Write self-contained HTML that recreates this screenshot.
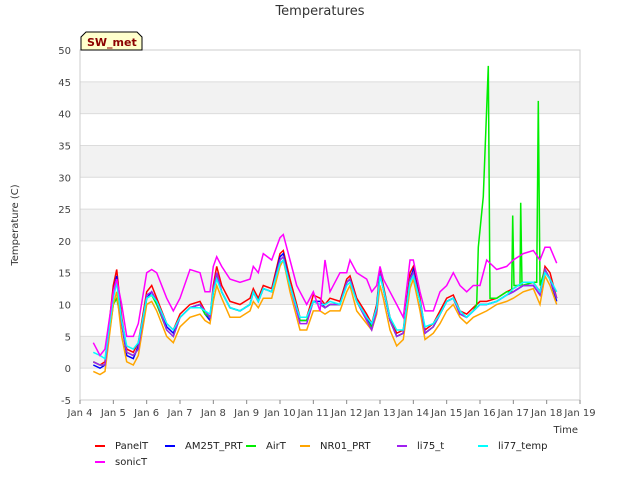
<!DOCTYPE html>
<html><head><meta charset="utf-8"><style>
body{margin:0;background:#fff;font-family:"Liberation Sans","DejaVu Sans",sans-serif;}
svg text{font-family:"DejaVu Sans","Liberation Sans",sans-serif;}
</style></head><body>
<svg id="chart" width="640" height="480" xmlns="http://www.w3.org/2000/svg">
<rect width="640" height="480" fill="#fff"/>
<g id="bands"></g><g id="grid"></g>
<rect x="80" y="50" width="500" height="350" fill="none" stroke="#ccc"/>
<g id="series"></g><g id="axes"></g>
<text x="320" y="15" text-anchor="middle" font-size="13" fill="#333">Temperatures</text>
<text x="18" y="225" text-anchor="middle" font-size="10" fill="#333" transform="rotate(-90 18 225)">Temperature (C)</text>
<text x="578" y="433" text-anchor="end" font-size="10" fill="#333">Time</text>
<g><path d="M81,50 L81,37 L86,32 L137,32 L142,37 L142,50 Z" fill="#ffffcc" stroke="#000"/><text x="87" y="46" font-size="11" font-weight="bold" fill="#8b0000">SW_met</text></g>
<g id="legend"></g>
</svg>
<script>
const times=[4.4,4.6,4.75,5.0,5.1,5.25,5.4,5.6,5.75,6.0,6.15,6.3,6.6,6.8,7.0,7.3,7.6,7.75,7.9,8.0,8.1,8.25,8.5,8.8,9.1,9.2,9.35,9.5,9.75,10.0,10.1,10.3,10.5,10.6,10.8,11.0,11.2,11.35,11.5,11.8,12.0,12.1,12.3,12.6,12.75,12.9,13.0,13.1,13.3,13.5,13.7,13.9,14.0,14.2,14.35,14.6,14.8,15.0,15.2,15.4,15.6,15.8,16.0,16.2,16.5,16.8,17.0,17.3,17.6,17.8,17.95,18.1,18.3];
const panelT=[1,0.5,1,13,15.5,8,3,2.5,4,12,13,11,7,6,8.5,10,10.5,9,8,13,16,13,10.5,10,11,12.5,11,13,12.5,18,18.5,14,10,8,8,11.5,11,10,11,10.5,14,14.5,11,8.5,7,10,15.5,13,8,5.5,6,15,16,11,6,7,9,11,11.5,9,8.5,9.5,10.5,10.5,11,12,12.5,13.5,13.5,12,16,15,11];
const am25T=[0.5,0,0.5,12,14.5,7,2,1.5,3.5,11,12,10.5,6.5,5.5,8,9.5,10,8.5,7.5,12,15,12,9.5,9,10,12,10.5,12.5,12,17.5,18,13,9.5,7.5,7.5,10.5,10.5,9.5,10,10,13.5,14,10.5,8,6.5,9.5,15,12.5,7.5,5,5.5,14,15.5,10.5,5.5,6.5,8.5,10.5,11,8.5,8,9,10,10,10.5,11.5,12,13,13,11.5,15.5,14,10.5];
const nr01=[-0.5,-1,-0.5,10,12,5,1,0.5,2,10,10.5,9,5,4,6.5,8,8.5,7.5,7,10.5,13,11,8,8,9,10.5,9.5,11,11,16,17,12,8,6,6,9,9,8.5,9,9,12,13,9,7,6,8.5,13,11,6,3.5,4.5,12.5,14,9,4.5,5.5,7,9,10,8,7,8,8.5,9,10,10.5,11,12,12.5,10,14.5,13,10];
const li75=[1,0.5,0.5,12,14,7,2.5,2,3,11.5,12,10.5,6,5,8,9.5,10,9,8,12.5,15,12,9.5,9,10,12,10.5,12.5,12,17,17.5,13,9,7,7,10.5,10,9.5,10,10,13.5,14,10.5,7.5,6,9,15,12.5,7.5,5,5.5,14,15,10.5,5.5,6.5,8.5,10.5,11,8.5,8,9,10,10,10.5,11.5,12,13,13,11.5,15.5,14,11];
const li77=[2.5,2,1.5,11,13.5,7.5,3.5,3,4,11,11.5,10.5,7,6,8,9.5,9.5,9,8.5,12,14,12,9.5,9,10,12,10.5,12.5,12,16.5,17,13,9.5,8,8,10.5,10,10,10.5,10,13,13.5,10.5,8,7,9.5,14.5,12.5,8,6,6,13.5,14.5,10.5,6.5,7,8.5,10.5,11,9,8,9,10,10,10.5,11.5,12.5,13.5,13.5,12,15,14,12];
const sonicT=[4,2,3,12,14,10,5,5,7,15,15.5,15,11,9,11,15.5,15,12,12,16,17.5,16,14,13.5,14,16,15,18,17,20.5,21,17,13,12,10,12,9,17,12,15,15,17,15,14,12,13,16,14,12,10,8,17,17,12,9,9,12,13,15,13,12,13,13,17,15.5,16,17,18,18.5,17,19,19,16.5];
const airTimes=[4.4,4.6,4.75,5.0,5.1,5.25,5.4,5.6,5.75,6.0,6.15,6.3,6.6,6.8,7.0,7.3,7.6,7.75,7.9,8.0,8.1,8.25,8.5,8.8,9.1,9.2,9.35,9.5,9.75,10.0,10.1,10.3,10.5,10.6,10.8,11.0,11.2,11.35,11.5,11.8,12.0,12.1,12.3,12.6,12.75,12.9,13.0,13.1,13.3,13.5,13.7,13.9,14.0,14.2,14.35,14.6,14.8,15.0,15.2,15.4,15.6,15.8,15.9,15.95,16.1,16.25,16.3,16.5,16.8,16.95,16.98,17.02,17.2,17.22,17.26,17.6,17.7,17.75,17.8,17.95,18.1,18.3];
const airT=[1,0.5,0.5,10,11,7,2.5,2,3,11,11.5,10,6,5,8,9.5,10,8.5,8,12,14.5,12,9.5,9,10,12,10.5,12.5,12,17,17.5,13,9.5,7.5,7.5,10.5,10,9.5,10,10,13.5,14,10.5,7.5,6.5,9,15,12.5,7.5,5,5.5,14,15,10.5,5.5,6.5,8.5,10.5,11,8.5,8,9,10,19,27,47.5,11,11,12,12,24,13,13,26,13,13.5,13.5,42,13,15.5,14,11];
const yTicks=[-5,0,5,10,15,20,25,30,35,40,45,50];
const xTicks=[4,5,6,7,8,9,10,11,12,13,14,15,16,17,18,19];
const NS="http://www.w3.org/2000/svg";
const X=d=>80+(d-4)*500/15, Y=v=>400-(v+5)*350/55;
function mk(tag,attrs,parent){const e=document.createElementNS(NS,tag);for(const k in attrs)e.setAttribute(k,attrs[k]);parent.appendChild(e);return e;}
const bands=document.getElementById('bands'),grid=document.getElementById('grid'),axes=document.getElementById('axes');
for(const v of [0,10,20,30,40]){const r=mk('rect',{x:80,y:Y(v+5),width:500,height:Y(v)-Y(v+5),fill:'#f2f2f2'},bands);

}
for(const v of yTicks){const l=mk('line',{x1:80,x2:580,y1:Y(v),y2:Y(v),stroke:'#dcdcdc'},grid);


const t=mk('text',{x:71,y:Y(v)+4,'text-anchor':'end','font-size':10,fill:'#444'},axes);t.textContent=v;

}
for(const d of xTicks){const t=mk('text',{x:X(d),y:416,'text-anchor':'middle','font-size':10,fill:'#444'},axes);t.textContent='Jan '+d;


const k=mk('line',{x1:X(d),x2:X(d),y1:400,y2:404,stroke:'#888'},axes);

}
const series=[['PanelT',times,panelT,'#ff0000'],['AM25T_PRT',times,am25T,'#0000ff'],['AirT',airTimes,airT,'#00ee00'],['NR01_PRT',times,nr01,'#ffa500'],['li75_t',times,li75,'#a020f0'],['li77_temp',times,li77,'#00ffff'],['sonicT',times,sonicT,'#ff00ff']];
const sg=document.getElementById('series');
for(const [n,tt,vv,c] of series){const p=mk('polyline',{points:tt.map((d,i)=>X(d).toFixed(1)+','+Y(vv[i]).toFixed(1)).join(' '),fill:'none',stroke:c,'stroke-width':1.5},sg);

}
const lg=document.getElementById('legend');
const lpos=[[95,445],[165,445],[246,445],[300,445],[397,445],[478,445],[95,461]];
series.forEach((s,i)=>{const [x,y]=lpos[i];
const g=mk('g',{},lg);


mk('line',{x1:x,x2:x+10,y1:y+1,y2:y+1,stroke:s[3],'stroke-width':2},g);
const t=mk('text',{x:x+20,y:y+4,'font-size':10,fill:'#222'},g);t.textContent=s[0];});
</script>
</body></html>
